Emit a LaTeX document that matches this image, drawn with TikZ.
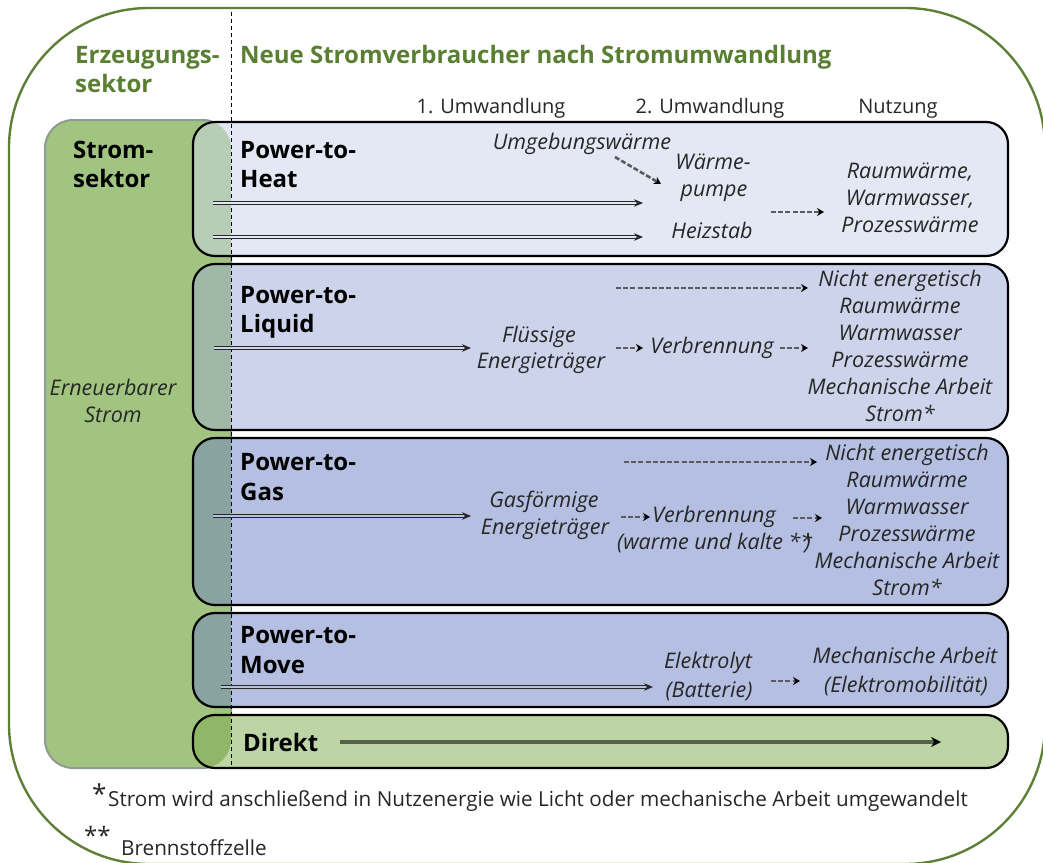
\documentclass[tikz,border=0pt]{standalone}
\usepackage{fontspec}
\setmainfont{Open Sans}
\usetikzlibrary{arrows.meta}
\definecolor{headgreen}{HTML}{5A7F32}
\definecolor{outergreen}{HTML}{5E8036}
\definecolor{sgreen}{HTML}{A2C481}
\definecolor{sborder}{HTML}{8E9C92}
\definecolor{heatfill}{HTML}{E4E8F4}
\definecolor{heatov}{HTML}{B8CDB6}
\definecolor{liqfill}{HTML}{CCD3EA}
\definecolor{liqov}{HTML}{A0B9A6}
\definecolor{gasfill}{HTML}{B4BFE1}
\definecolor{gasov}{HTML}{88A3A0}
\definecolor{dirfill}{HTML}{BDD4A5}
\definecolor{dirov}{HTML}{90B768}
\definecolor{txtgray}{HTML}{262626}
\definecolor{dirline}{HTML}{56634C}
\definecolor{dashgray}{HTML}{5C5C5C}
\newcommand\rowbox[4]{%
  \begin{scope}
    \path[clip, rounded corners=22pt] (193,#1) rectangle (1008,#2);
    \fill[#3] (193,#1) rectangle (1008,#2);
    \fill[#4, rounded corners=28pt] (45,120) rectangle (231,768);
  \end{scope}
  \draw[rowborder] (193,#1) rectangle (1008,#2);
}
\begin{document}
\begin{tikzpicture}[x=1pt,y=-1pt,
  rowborder/.style={draw=black, line width=2.2pt, rounded corners=22pt},
  itx/.style={font=\fontsize{21.5}{24}\selectfont\itshape, text=txtgray, inner sep=0pt, anchor=base},
  col/.style={font=\fontsize{20}{24}\selectfont, text=txtgray, inner sep=0pt, anchor=base},
  hd/.style={font=\fontsize{24}{28}\selectfont\bfseries, text=black, inner sep=0pt, anchor=base west},
  ghd/.style={hd, text=headgreen},
  darr/.style={draw=black!85, line width=0.9pt, double=#1, double distance=2pt, -{Stealth[length=9pt,width=7.5pt]}},
  ddash/.style={draw=dashgray, line width=2.6pt, dash pattern=on 5pt off 2.2pt, -{Stealth[length=7pt,width=8pt,black]}},
  fn/.style={font=\fontsize{20.7}{24}\selectfont, text=txtgray, inner sep=0pt, anchor=base west}]
\useasboundingbox (0,0) rectangle (1043,862);
% outer frame
\draw[draw=outergreen, line width=2.4pt, rounded corners=140pt] (9,8) rectangle (1045,864);
% Stromsektor box
\fill[sgreen, rounded corners=28pt] (45,120) rectangle (231,768);
\draw[sborder, line width=2pt, rounded corners=28pt] (45,120) rectangle (231,768);
% rows
\rowbox{122}{256}{heatfill}{heatov}
\rowbox{264}{430}{liqfill}{liqov}
\rowbox{438}{605}{gasfill}{gasov}
\rowbox{613}{707}{gasfill}{gasov}
\rowbox{715}{768}{dirfill}{dirov}
% dashed separator
\coordinate (sepTop) at (231,12);
\coordinate (sepBot) at (231,768);
\draw[black, line width=1pt, dash pattern=on 4pt off 3pt] (sepTop) -- (sepBot);
% headings
\node[ghd] (erz1) at (75,63) {Erzeugungs-};
\node[ghd] (erz2) at (75,92) {sektor};
\node[ghd] (neue) at (240,63) {Neue Stromverbraucher nach Stromumwandlung};
\node[col] (u1) at (491,113) {1. Umwandlung};
\node[col] (u2) at (710,113) {2. Umwandlung};
\node[col] (nutz) at (898,113) {Nutzung};
% Stromsektor
\node[hd] (st1) at (73,158) {Strom-};
\node[hd] (st2) at (73,187) {sektor};
\node[itx] (ern1) at (113,395) {Erneuerbarer};
\node[itx] (ern2) at (113,422) {Strom};
% Power-to-Heat
\node[hd] (h1) at (240,158) {Power-to-};
\node[hd] (h2) at (240,187) {Heat};
\node[itx] (umg) at (582,149) {Umgebungswärme};
\node[itx] (wp1) at (713,169) {Wärme-};
\node[itx] (wp2) at (714,196) {pumpe};
\node[itx] (heiz) at (712,238) {Heizstab};
\node[itx] (hn1) at (910,178) {Raumwärme,};
\node[itx] (hn2) at (910,205) {Warmwasser,};
\node[itx] (hn3) at (910,232) {Prozesswärme};
\coordinate (hA1s) at (213,203); \coordinate (hA1e) at (643,203);
\coordinate (hA2s) at (213,237); \coordinate (hA2e) at (643,237);
\draw[darr=heatfill] (hA1s) -- (hA1e);
\draw[darr=heatfill] (hA2s) -- (hA2e);
\coordinate (umgS) at (615,157); \coordinate (umgE) at (661,184);
\draw[ddash] (umgS) -- (umgE);
\coordinate (hDs) at (771,212); \coordinate (hDe) at (824,212);
\draw[ddash] (hDs) -- (hDe);
% Power-to-Liquid
\node[hd] (l1) at (240,303) {Power-to-};
\node[hd] (l2) at (240,332) {Liquid};
\node[itx] (fl1) at (539,342) {Flüssige};
\node[itx] (fl2) at (541,368) {Energieträger};
\node[itx] (lv) at (712,353) {Verbrennung};
\node[itx] (ln1) at (900,286) {Nicht energetisch};
\node[itx] (ln2) at (900,313) {Raumwärme};
\node[itx] (ln3) at (900,340) {Warmwasser};
\node[itx] (ln4) at (900,367) {Prozesswärme};
\node[itx] (ln5) at (900,394) {Mechanische Arbeit};
\node[itx] (ln6) at (900,421) {Strom*};
\coordinate (lAs) at (214,348); \coordinate (lAe) at (471,348);
\draw[darr=liqfill] (lAs) -- (lAe);
\coordinate (lD1s) at (616,288); \coordinate (lD1e) at (808,288);
\draw[ddash] (lD1s) -- (lD1e);
\coordinate (lD2s) at (616,348); \coordinate (lD2e) at (643,348);
\draw[ddash] (lD2s) -- (lD2e);
\coordinate (lD3s) at (780,348); \coordinate (lD3e) at (808,348);
\draw[ddash] (lD3s) -- (lD3e);
% Power-to-Gas
\node[hd] (g1) at (240,470) {Power-to-};
\node[hd] (g2) at (240,500) {Gas};
\node[itx] (gf1) at (544,507) {Gasförmige};
\node[itx] (gf2) at (545,534) {Energieträger};
\node[itx] (gv1) at (714,522) {Verbrennung};
\node[itx] (gv2) at (714,549) {(warme und kalte **\kern-0.35em)};
\node[itx] (gn1) at (907,460) {Nicht energetisch};
\node[itx] (gn2) at (907,487) {Raumwärme};
\node[itx] (gn3) at (907,514) {Warmwasser};
\node[itx] (gn4) at (907,541) {Prozesswärme};
\node[itx] (gn5) at (907,568) {Mechanische Arbeit};
\node[itx] (gn6) at (907,595) {Strom*};
\coordinate (gAs) at (213,516); \coordinate (gAe) at (471,516);
\draw[darr=gasfill] (gAs) -- (gAe);
\coordinate (gD1s) at (624,462); \coordinate (gD1e) at (817,462);
\draw[ddash] (gD1s) -- (gD1e);
\coordinate (gD2s) at (621,517); \coordinate (gD2e) at (650,517);
\draw[ddash] (gD2s) -- (gD2e);
\coordinate (gD3s) at (793,518); \coordinate (gD3e) at (822,518);
\draw[ddash] (gD3s) -- (gD3e);
% Power-to-Move
\node[hd] (m1) at (240,643) {Power-to-};
\node[hd] (m2) at (240,673) {Move};
\node[itx] (el1) at (708,668) {Elektrolyt};
\node[itx] (el2) at (709,697) {(Batterie)};
\node[itx] (mn1) at (905,663) {Mechanische Arbeit};
\node[itx] (mn2) at (906,692) {(Elektromobilität)};
\coordinate (mAs) at (221,687); \coordinate (mAe) at (653,687);
\draw[darr=gasfill] (mAs) -- (mAe);
\coordinate (mDs) at (771,681); \coordinate (mDe) at (800,681);
\draw[ddash] (mDs) -- (mDe);
% Direkt
\node[hd] (dir) at (243,751) {Direkt};
\coordinate (dAs) at (340,742); \coordinate (dAe) at (941,742);
\draw[draw=dirline, line width=3.5pt, -{Stealth[length=10pt,width=10pt,black]}] (dAs) -- (dAe);
% footnotes
\node[fn, font=\fontsize{26}{28}\selectfont] (fs1) at (92,803) {*};
\node[fn] (f1) at (108,806) {Strom wird anschließend in Nutzenergie wie Licht oder mechanische Arbeit umgewandelt};
\node[fn, font=\fontsize{24}{28}\selectfont] (fs2) at (84,844) {**};
\node[fn] (f2) at (121,855) {Brennstoffzelle};
\end{tikzpicture}
\end{document}
